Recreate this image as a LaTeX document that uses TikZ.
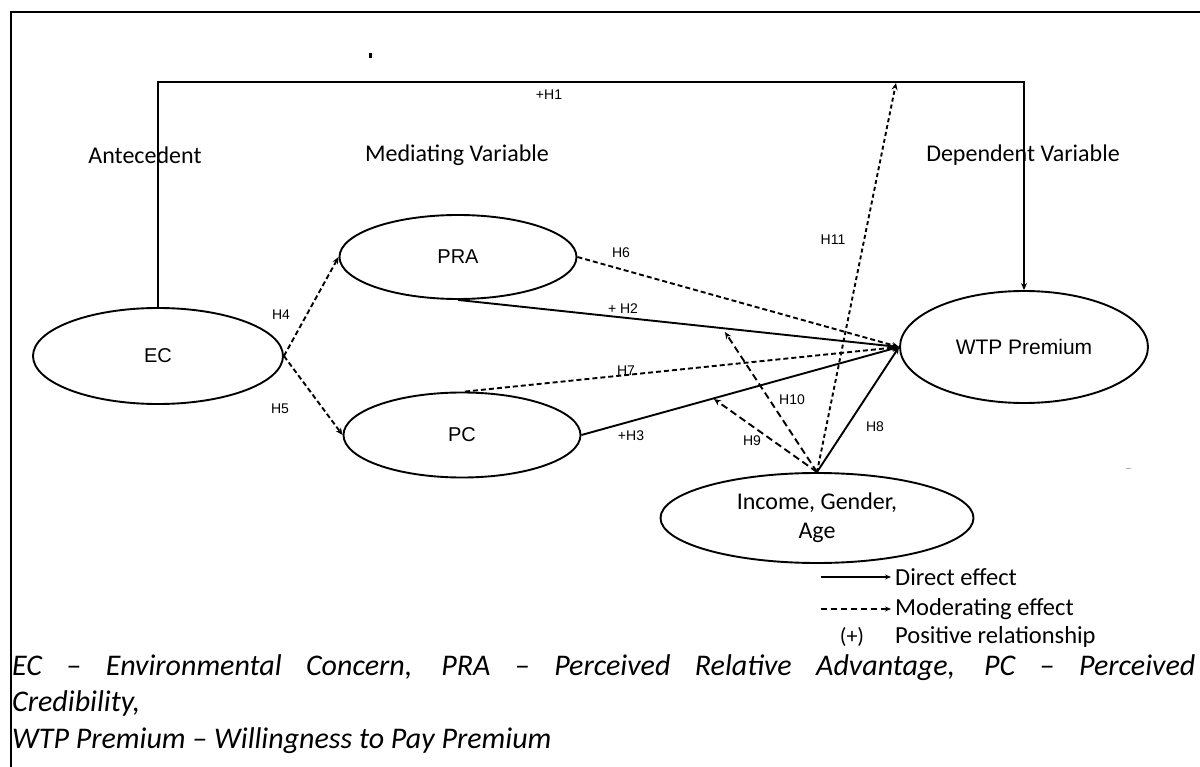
\documentclass[tikz,border=0pt]{standalone}
\usepackage{fontspec}
\setmainfont{Carlito}
\newfontfamily\arialf{Liberation Sans}
\usetikzlibrary{shapes.geometric,arrows.meta}
\tikzset{
  ell/.style={ellipse, draw, line width=1.9pt, inner sep=0pt, font=\arialf\fontsize{20}{24}\selectfont},
  sarrow/.style={line width=1.9pt, -{Stealth[length=7pt,width=6pt]}},
  darrow/.style={sarrow, dash pattern=on 5pt off 3pt},
  ldarrow/.style={sarrow, dash pattern=on 7pt off 4pt},
  hlab/.style={font=\arialf\fontsize{14}{16}\selectfont, inner sep=0pt},
  head/.style={font=\fontsize{24}{28}\selectfont, inner sep=0pt},
  legtext/.style={font=\fontsize{24.5}{28}\selectfont, inner sep=0pt, anchor=west},
  capt/.style={font=\fontsize{30}{36}\selectfont\itshape, inner sep=0pt, anchor=base west}
}
\begin{document}
\begin{tikzpicture}[x=1pt,y=-1pt]
\useasboundingbox[fill=white] (0,0) rectangle (1200,767);
% frame
\draw[line width=2.8pt] (11,768) -- (11,12) -- (1201,12);
\fill (369,53) rectangle (372,58);
\draw[gray!60, line width=1pt] (1126,468) -- (1131,468);
% ellipses
\node[ell, minimum width=250pt, minimum height=96pt] (EC) at (158,356) {EC};
\node[ell, minimum width=237pt, minimum height=84pt] (PRA) at (458,257) {PRA};
\node[ell, minimum width=237pt, minimum height=85pt] (PC) at (462,435) {PC};
\node[ell, minimum width=248pt, minimum height=112pt, font=\arialf\fontsize{21}{25}\selectfont] (WTP) at (1024,347) {WTP Premium};
\node[ell, minimum width=313pt, minimum height=90pt, font=\fontsize{24}{29}\selectfont, align=center] (INC) at (817,518) {Income, Gender,\\Age};
% headers
\node[head] (ant) at (145,155) {Antecedent};
\node[head] (med) at (457,155) {Mediating Variable};
\node[head] (dep) at (1023,155) {Dependent Variable};
% coordinates
\coordinate (top) at (158,82);
\coordinate (h11end) at (896,83);
\coordinate (h10end) at (725,332);
\coordinate (h9end) at (714,399);
% H1
\draw[sarrow] (EC.north) -- (top) -| (WTP.north);
% EC to mediators
\draw[darrow] (EC.east) -- (PRA.west);
\draw[darrow] (EC.east) -- (PC.west);
% to WTP
\draw[darrow] (PRA.east) -- (WTP.west);
\draw[sarrow] (PRA.south) -- (WTP.west);
\draw[darrow] (PC.86) -- (WTP.west);
\draw[sarrow] (PC.east) -- (WTP.west);
\draw[sarrow] (INC.north) -- (WTP.west);
% moderators
\draw[darrow, dash pattern=on 4pt off 3pt] (INC.north) -- (h11end);
\draw[ldarrow] (INC.north) -- (h10end);
\draw[ldarrow] (INC.north) -- (h9end);
% labels
\node[hlab] (lh1) at (549,95) {+H1};
\node[hlab] (lh4) at (281,315) {H4};
\node[hlab] (lh5) at (280,409) {H5};
\node[hlab] (lh6) at (621,253) {H6};
\node[hlab] (lh2) at (623,309) {+ H2};
\node[hlab] (lh7) at (626,371) {H7};
\node[hlab] (lh3) at (631,436) {+H3};
\node[hlab] (lh10) at (792,400) {H10};
\node[hlab] (lh9) at (752,441) {H9};
\node[hlab] (lh8) at (875,427) {H8};
\node[hlab] (lh11) at (833,240) {H11};
% legend
\node[legtext] (ld) at (895,577) {Direct effect};
\node[legtext] (lm) at (895,609) {Moderating effect};
\node[legtext] (lp) at (895,637) {Positive relationship};
\node[font=\fontsize{22}{26}\selectfont, inner sep=0pt] (lplus) at (852,637) {(+)};
\coordinate (ld0) at (821,577);
\coordinate (lm0) at (821,609);
\draw[line width=1.8pt, -{Stealth[length=6pt,width=5pt]}] (ld0) -- ([xshift=-4pt]ld.west);
\draw[line width=1.8pt, dash pattern=on 6pt off 4pt, -{Stealth[length=6pt,width=5pt]}] (lm0) -- ([xshift=-4pt]lm.west);
% caption
\node[capt] (c1) at (12,675) {\makebox[1183pt][s]{EC -- Environmental Concern, PRA -- Perceived Relative Advantage, PC -- Perceived}};
\node[capt] (c2) at (12,711) {Credibility,};
\node[capt] (c3) at (12,748) {WTP Premium -- Willingness to Pay Premium};
\end{tikzpicture}
\end{document}
